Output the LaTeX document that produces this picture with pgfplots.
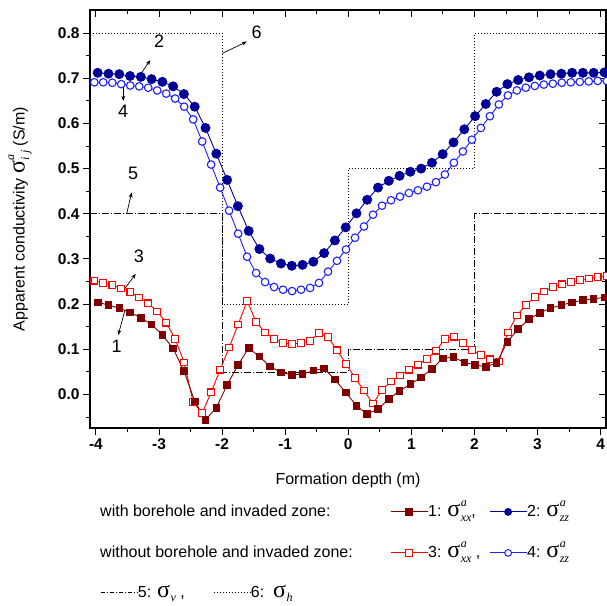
\documentclass[border=0pt]{standalone}
\usepackage{fontspec}
\setmainfont{Liberation Sans}
\newfontfamily\serif{Liberation Serif}
\usepackage{pgfplots}
\usepackage{pgfplotstable}
\pgfplotsset{compat=1.18}
\usetikzlibrary{arrows.meta}

\definecolor{sxxB}{RGB}{128,0,0}
\definecolor{szzB}{RGB}{0,0,150}
\definecolor{sxxN}{RGB}{255,0,0}
\definecolor{szzN}{RGB}{30,30,255}

% apparent conductivity symbol: sigma with super- and subscript
\newcommand{\sigfont}{\fontsize{24bp}{24bp}\selectfont\serif}
\newcommand{\idxfont}{\fontsize{12bp}{12bp}\selectfont\serif\itshape}
\newcommand{\sig}[2]{{\sigfont σ}\kern0.5bp\rlap{\raisebox{10.5bp}{\idxfont #1}}\raisebox{-4.5bp}{\idxfont #2}}
\newcommand{\sigs}[1]{{\sigfont σ}\kern0.5bp\raisebox{-4.5bp}{\idxfont #1}}

% legend keys
\newcommand{\keysq}[2]{\tikz[baseline=-0.6ex]{\draw[#1,line width=0.9bp] (0,0)--(37bp,0);
  \filldraw[#2,line width=1bp] (15.3bp,-3.3bp) rectangle (21.7bp,3.3bp);}}
\newcommand{\keyci}[2]{\tikz[baseline=-0.6ex]{\draw[#1,line width=0.9bp] (0,0)--(37bp,0);
  \filldraw[#2,line width=1bp] (18.5bp,0) circle (3.4bp);}}
\newcommand{\keydash}[1]{\tikz[baseline=-0.6ex]{\draw[black,line width=0.7bp,#1] (0,0)--(37bp,0);}}

% with borehole and invaded zone: x, sigma_xx, sigma_zz
\pgfplotstableread[row sep=\\]{
x s1 s2\\
-3.972 0.204 0.712\\
-3.801 0.198 0.710\\
-3.630 0.191 0.709\\
-3.459 0.182 0.705\\
-3.288 0.170 0.703\\
-3.118 0.155 0.698\\
-2.947 0.132 0.692\\
-2.776 0.102 0.682\\
-2.605 0.052 0.665\\
-2.434 -0.015 0.637\\
-2.263 -0.056 0.590\\
-2.092 -0.029 0.533\\
-1.921 0.021 0.475\\
-1.750 0.065 0.417\\
-1.579 0.103 0.362\\
-1.409 0.084 0.322\\
-1.238 0.062 0.301\\
-1.067 0.049 0.290\\
-0.896 0.044 0.285\\
-0.725 0.045 0.287\\
-0.554 0.053 0.294\\
-0.383 0.058 0.313\\
-0.212 0.033 0.341\\
-0.041 0.005 0.370\\
0.130 -0.025 0.401\\
0.300 -0.043 0.431\\
0.471 -0.032 0.458\\
0.642 -0.010 0.473\\
0.813 0.008 0.484\\
0.984 0.023 0.493\\
1.155 0.038 0.500\\
1.326 0.057 0.513\\
1.497 0.080 0.532\\
1.668 0.083 0.558\\
1.839 0.071 0.587\\
2.010 0.066 0.616\\
2.180 0.061 0.643\\
2.351 0.070 0.670\\
2.522 0.117 0.687\\
2.693 0.145 0.696\\
2.864 0.167 0.702\\
3.035 0.181 0.706\\
3.206 0.191 0.709\\
3.377 0.198 0.710\\
3.548 0.204 0.712\\
3.719 0.209 0.712\\
3.889 0.212 0.712\\
4.060 0.215 0.713\\
}\withBH

% without borehole and invaded zone: x, sigma_xx, sigma_zz
\pgfplotstableread[row sep=\\]{
x s3 s4\\
-4.026 0.252 0.691\\
-3.884 0.247 0.691\\
-3.741 0.242 0.690\\
-3.599 0.235 0.687\\
-3.456 0.227 0.684\\
-3.314 0.215 0.682\\
-3.171 0.202 0.679\\
-3.029 0.184 0.673\\
-2.886 0.159 0.666\\
-2.744 0.123 0.655\\
-2.601 0.071 0.637\\
-2.459 -0.017 0.609\\
-2.316 -0.041 0.560\\
-2.174 0.005 0.509\\
-2.031 0.055 0.458\\
-1.889 0.104 0.407\\
-1.746 0.155 0.356\\
-1.604 0.207 0.305\\
-1.461 0.161 0.269\\
-1.319 0.137 0.249\\
-1.176 0.123 0.238\\
-1.034 0.114 0.232\\
-0.891 0.112 0.229\\
-0.749 0.114 0.232\\
-0.606 0.119 0.236\\
-0.464 0.136 0.247\\
-0.321 0.127 0.272\\
-0.179 0.098 0.296\\
-0.036 0.068 0.321\\
0.107 0.037 0.347\\
0.249 0.009 0.372\\
0.392 -0.020 0.398\\
0.534 0.010 0.418\\
0.677 0.029 0.430\\
0.819 0.042 0.438\\
0.962 0.055 0.446\\
1.104 0.066 0.452\\
1.247 0.079 0.460\\
1.389 0.097 0.470\\
1.532 0.123 0.487\\
1.674 0.128 0.513\\
1.817 0.114 0.538\\
1.959 0.099 0.564\\
2.102 0.087 0.590\\
2.244 0.078 0.616\\
2.387 0.073 0.642\\
2.529 0.137 0.662\\
2.672 0.175 0.673\\
2.814 0.198 0.679\\
2.957 0.216 0.683\\
3.099 0.228 0.686\\
3.242 0.238 0.688\\
3.384 0.244 0.690\\
3.527 0.249 0.691\\
3.669 0.253 0.692\\
3.812 0.257 0.693\\
3.954 0.260 0.694\\
4.097 0.262 0.694\\
}\withoutBH

\pgfplotsset{
  frame/.style={
    scale only axis, width=516bp, height=418bp,
    at={(90bp,178bp)}, anchor=south west,
    xmin=-4.094, xmax=4.085, ymin=-0.074, ymax=0.851,
    axis line style={line width=1.2bp},
    xtick={-4,-3,-2,-1,0,1,2,3,4},
    minor xtick={-3.5,-2.5,-1.5,-0.5,0.5,1.5,2.5,3.5},
    ytick={0,0.1,0.2,0.3,0.4,0.5,0.6,0.7,0.8},
    minor ytick={-0.05,0.05,0.15,0.25,0.35,0.45,0.55,0.65,0.75},
    major tick length=7bp, minor tick length=4bp,
    every tick/.style={black,line width=1bp},
  }
}

\begin{document}
\begin{tikzpicture}
% ticks on the top and right edges, pointing inwards
\begin{axis}[frame, xtick pos=upper, ytick pos=right, tick align=inside,
  xticklabels={}, yticklabels={}]
\end{axis}

\begin{axis}[frame, xtick pos=lower, ytick pos=left, tick align=outside,
  xticklabels={-4,-3,-2,-1,0,1,2,3,4},
  yticklabels={0.0,0.1,0.2,0.3,0.4,0.5,0.6,0.7,0.8},
  ticklabel style={font=\fontsize{15.5bp}{16bp}\selectfont\bfseries},
  xlabel={Formation depth (m)},
  ylabel={Apparent conductivity \sig{a}{i j} (S/m)},
  label style={font=\fontsize{16bp}{18bp}\selectfont},
  xlabel style={at={(axis description cs:0.5,-0.136)}, anchor=base},
  ylabel style={at={(axis description cs:-0.1357,0.5)}, anchor=center},
  clip=false]

% sigma_h (6) and sigma_v (5) of the layered formation
\addplot[black, line width=0.9bp, dash pattern=on 1bp off 2bp] coordinates {
  (-4.094,0.8) (-2,0.8) (-2,0.2) (0,0.2) (0,0.5) (2,0.5) (2,0.8) (4.085,0.8)};
\addplot[black, line width=0.9bp, dash pattern=on 7bp off 2bp on 1bp off 2bp] coordinates {
  (-4.094,0.4) (-2,0.4) (-2,0.05) (0,0.05) (0,0.1) (2,0.1) (2,0.4) (4.085,0.4)};

% without borehole and invaded zone
\addplot[sxxN, line width=0.9bp, mark=square*, mark size=3.3bp,
  mark options={fill=white, draw=sxxN, line width=1.1bp}] table[x=x, y=s3] {\withoutBH};
\addplot[szzN, line width=0.9bp, mark=*, mark size=3.8bp,
  mark options={fill=white, draw=szzN, line width=1.1bp}] table[x=x, y=s4] {\withoutBH};

% with borehole and invaded zone
\addplot[sxxB, line width=0.9bp, mark=square*, mark size=3.3bp,
  mark options={fill=sxxB, draw=sxxB}] table[x=x, y=s1] {\withBH};
\addplot[szzB, line width=0.9bp, mark=*, mark size=4.5bp,
  mark options={fill=szzB, draw=szzB}] table[x=x, y=s2] {\withBH};

% curve labels
\begin{scope}[-{Stealth[length=5bp,width=4bp]}, line width=0.7bp]
\draw (-3.30,0.707) -- (-3.14,0.740);
\draw (-3.567,0.689) -- (-3.567,0.650);
\draw (-3.512,0.401) -- (-3.433,0.447);
\draw (-1.997,0.755) -- (-1.61,0.781);
\draw (-3.54,0.235) -- (-3.37,0.267);
\draw (-3.54,0.187) -- (-3.646,0.132);
\end{scope}
\begin{scope}[every node/.style={font=\fontsize{18bp}{18bp}\selectfont, inner sep=0pt}]
\node at (-3.00,0.781) {2};
\node at (-3.567,0.626) {4};
\node at (-3.41,0.490) {5};
\node at (-1.452,0.802) {6};
\node at (-3.32,0.305) {3};
\node at (-3.67,0.106) {1};
\end{scope}
\end{axis}

% legend
\begin{scope}[every node/.style={anchor=base west, inner sep=0pt, font=\fontsize{16bp}{18bp}\selectfont}]
\node at (100bp,89bp) {with borehole and invaded zone:};
\node at (390bp,89bp) {\keysq{sxxB}{fill=sxxB,draw=sxxB}1: \sig{a}{xx},};
\node at (489bp,89bp) {\keyci{szzB}{fill=szzB,draw=szzB}2: \sig{a}{zz}};
\node at (100bp,48bp) {without borehole and invaded zone:};
\node at (390bp,48bp) {\keysq{sxxN}{fill=white,draw=sxxN}3: \sig{a}{xx} ,};
\node at (489bp,48bp) {\keyci{szzN}{fill=white,draw=szzN}4: \sig{a}{zz}};
\node at (100bp,9bp) {\keydash{dash pattern=on 4bp off 2bp on 1bp off 2bp}5: \sigs{v} ,};
\node at (213bp,9bp) {\keydash{dash pattern=on 1bp off 2bp}6:~~\sigs{h}};
\end{scope}

\pgfresetboundingbox
\path[use as bounding box] (0,0) rectangle (607bp,606bp);
\end{tikzpicture}
\end{document}
